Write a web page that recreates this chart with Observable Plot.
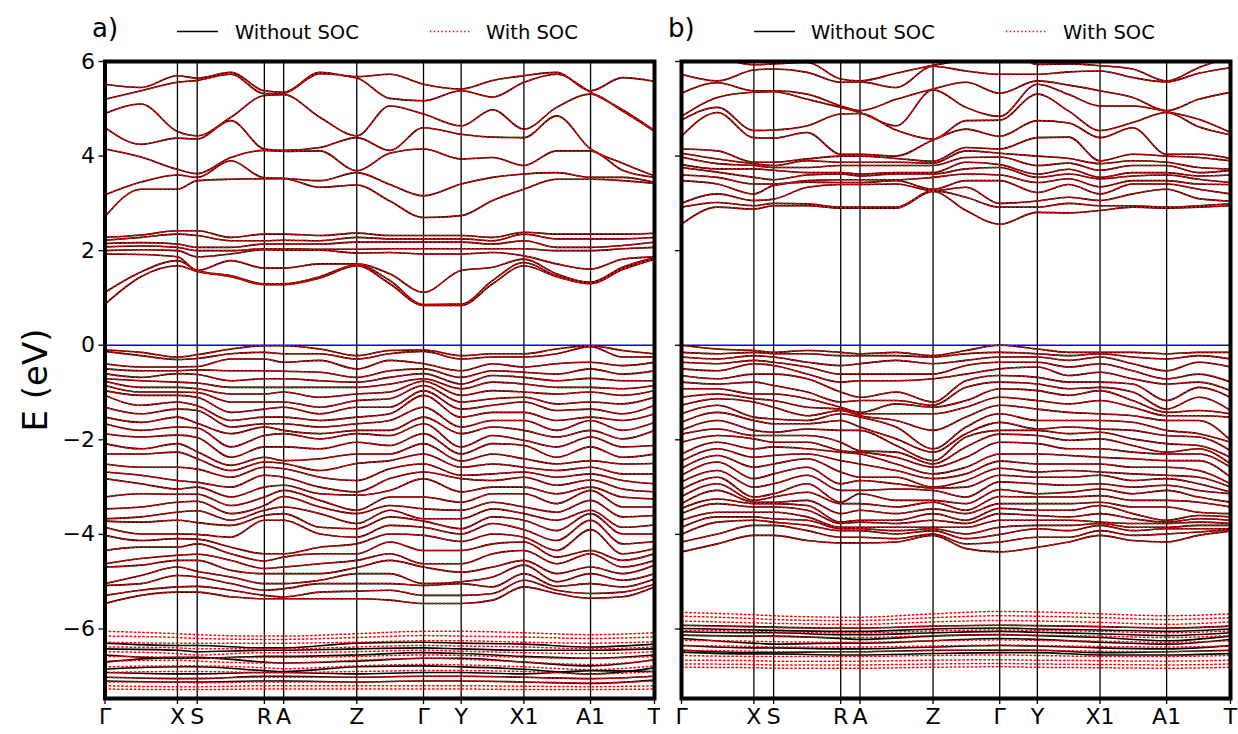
<!DOCTYPE html>
<html><head><meta charset="utf-8">
<script src="https://cdn.jsdelivr.net/npm/d3@7"></script>
<script src="https://cdn.jsdelivr.net/npm/@observablehq/plot@0.6"></script>
<style>
body{margin:0;background:#fff;font-family:"DejaVu Sans",sans-serif}
#wrap{position:relative;width:1238px;height:734px;overflow:hidden;background:#fff}
#wrap > svg{position:absolute;top:0}
</style></head><body><div id="wrap"></div>
<script>
// ---------- k-path ----------
const hsLabels = ["Γ","X","S","R","A","Z","Γ","Y","X1","A1","T"];
const kHS = [0,72.5,92.3,159.5,178.8,252,318.8,356.5,419.3,486,550];
const kGrid = [0,36,72.5,92.3,126,159.5,178.8,215,252,285,318.8,356.5,388,419.3,452,486,518,550];
const yTicks = [-6,-4,-2,0,2,4,6];
const seriesNames = ["Without SOC","With SOC"];

// ---------- panel a : conduction bands (rows along kGrid) ----------
const condA_upper = [
  [5.52,5.45,5.70,5.65,5.77,5.38,5.35,5.77,5.68,5.73,5.52,5.42,5.60,5.70,5.77,5.38,5.66,5.58],
  [5.20,5.38,5.56,5.60,5.73,5.32,5.33,5.74,5.65,5.22,5.17,5.38,5.25,5.56,5.73,5.35,4.98,4.54],
  [4.90,5.10,4.52,4.43,4.82,5.28,5.30,4.82,4.43,5.06,4.89,4.64,4.98,4.57,5.03,5.31,4.95,4.52],
  [4.60,4.25,4.38,4.36,4.75,4.15,4.12,4.18,4.39,4.12,4.60,4.46,4.40,4.39,4.85,4.15,3.85,3.58],
  [4.15,3.98,3.72,3.63,3.97,4.12,4.10,4.11,3.69,4.06,4.15,3.94,3.97,3.80,4.11,4.11,3.70,3.55],
  [3.18,3.45,3.60,3.55,3.90,3.54,3.53,3.48,3.65,3.40,3.16,3.41,3.55,3.62,3.65,3.55,3.55,3.44],
  [2.72,3.30,3.30,3.48,3.51,3.52,3.52,3.34,3.39,3.05,2.70,2.74,3.06,3.30,3.51,3.51,3.48,3.42]
];
const condA_lower = [
  [2.28,2.33,2.42,2.42,2.28,2.35,2.35,2.32,2.37,2.32,2.32,2.32,2.28,2.39,2.35,2.35,2.35,2.37],
  [2.22,2.28,2.35,2.32,2.21,2.21,2.22,2.21,2.28,2.25,2.25,2.25,2.21,2.35,2.25,2.25,2.25,2.28],
  [2.15,2.17,2.14,2.07,2.07,2.14,2.14,2.14,2.18,2.18,2.18,2.18,2.14,2.21,2.07,2.07,2.11,2.18],
  [2.08,2.10,2.07,2.00,2.00,2.04,2.04,2.03,2.03,2.04,2.04,2.04,2.04,2.04,2.00,2.00,2.04,2.07],
  [2.00,2.02,2.00,1.87,1.93,2.02,2.01,2.01,1.95,1.96,1.93,1.93,1.96,1.89,1.72,1.61,1.82,1.87],
  [1.93,1.92,1.87,1.58,1.79,1.63,1.63,1.72,1.72,1.51,1.12,1.58,1.65,1.82,1.51,1.33,1.65,1.85],
  [1.12,1.55,1.79,1.58,1.47,1.30,1.30,1.45,1.70,1.37,0.86,0.87,1.37,1.75,1.47,1.33,1.62,1.83],
  [0.87,1.45,1.68,1.56,1.45,1.28,1.28,1.42,1.68,1.30,0.84,0.84,1.30,1.68,1.45,1.30,1.60,1.82]
];

// ---------- panel a : valence bands (columns, one per kGrid point) ----------
const valA_G  = [-0.10,-0.13,-0.39,-0.50,-0.60,-0.71,-0.76,-0.85,-0.96,-1.06,-1.31,-1.52,-1.66,-1.87,-2.08,-2.30,-2.51,-2.68,-2.82,-3.21,-3.46,-3.67,-3.72,-3.85,-4.02,-4.34,-4.62,-4.69,-5.04,-5.08,-5.29,-5.46];
const valA_cols = [
  valA_G,
  [-0.15,-0.22,-0.46,-0.54,-0.68,-0.75,-0.89,-0.99,-1.06,-1.27,-1.45,-1.63,-1.80,-1.94,-2.19,-2.30,-2.58,-2.75,-2.93,-3.14,-3.42,-3.63,-3.74,-3.99,-4.13,-4.27,-4.51,-4.65,-4.87,-5.04,-5.18,-5.29],
  [-0.25,-0.30,-0.46,-0.54,-0.60,-0.78,-0.89,-0.99,-1.06,-1.20,-1.35,-1.52,-1.73,-1.90,-2.08,-2.26,-2.58,-2.86,-3.04,-3.15,-3.32,-3.53,-3.70,-3.99,-4.09,-4.27,-4.44,-4.55,-4.69,-4.87,-5.11,-5.22],
  [-0.20,-0.28,-0.45,-0.52,-0.62,-0.80,-0.92,-1.00,-1.10,-1.28,-1.38,-1.65,-1.75,-1.95,-2.25,-2.40,-2.62,-2.90,-3.00,-3.15,-3.30,-3.50,-3.75,-4.00,-4.10,-4.20,-4.42,-4.55,-4.78,-4.90,-5.10,-5.22],
  [-0.08,-0.18,-0.29,-0.54,-0.75,-0.89,-1.03,-1.20,-1.42,-1.59,-1.73,-1.87,-2.15,-2.37,-2.54,-2.65,-2.79,-3.00,-3.21,-3.39,-3.56,-3.70,-3.81,-4.06,-4.27,-4.41,-4.55,-4.76,-4.90,-5.04,-5.18,-5.32],
  [-0.01,-0.15,-0.29,-0.54,-0.71,-0.89,-1.03,-1.20,-1.35,-1.52,-1.66,-1.73,-1.91,-2.15,-2.37,-2.47,-2.58,-2.75,-3.00,-3.21,-3.39,-3.49,-3.60,-3.70,-4.41,-4.56,-4.72,-4.83,-5.04,-5.18,-5.29,-5.36],
  [-0.01,-0.18,-0.36,-0.55,-0.71,-0.89,-0.99,-1.20,-1.31,-1.52,-1.66,-1.80,-1.87,-2.15,-2.44,-2.50,-2.61,-2.79,-2.96,-3.07,-3.20,-3.42,-3.56,-3.70,-4.41,-4.48,-4.69,-4.83,-5.04,-5.15,-5.32,-5.36],
  [-0.08,-0.18,-0.32,-0.57,-0.75,-0.89,-1.10,-1.31,-1.45,-1.59,-1.73,-1.87,-1.98,-2.19,-2.40,-2.65,-2.79,-3.00,-3.14,-3.28,-3.42,-3.56,-3.85,-3.99,-4.27,-4.41,-4.62,-4.83,-4.97,-5.04,-5.22,-5.36],
  [-0.22,-0.29,-0.50,-0.68,-0.78,-0.89,-1.03,-1.17,-1.31,-1.52,-1.66,-1.80,-1.87,-2.05,-2.30,-2.50,-2.86,-3.10,-3.17,-3.49,-3.56,-3.77,-3.88,-4.06,-4.20,-4.41,-4.55,-4.70,-4.83,-5.04,-5.20,-5.36],
  [-0.11,-0.18,-0.32,-0.54,-0.68,-0.82,-0.99,-1.13,-1.31,-1.45,-1.59,-1.80,-1.91,-2.12,-2.30,-2.44,-2.61,-2.82,-3.07,-3.21,-3.39,-3.49,-3.63,-3.81,-3.99,-4.16,-4.41,-4.55,-4.83,-5.04,-5.18,-5.39],
  valA_G,
  [-0.22,-0.29,-0.54,-0.68,-0.82,-0.92,-1.06,-1.20,-1.35,-1.52,-1.73,-1.87,-2.15,-2.30,-2.45,-2.58,-2.75,-2.82,-3.10,-3.32,-3.49,-3.67,-3.88,-3.99,-4.15,-4.34,-4.62,-4.80,-5.00,-5.04,-5.29,-5.46],
  [-0.18,-0.25,-0.39,-0.54,-0.64,-0.78,-0.96,-1.13,-1.27,-1.42,-1.59,-1.73,-1.91,-2.08,-2.30,-2.51,-2.72,-2.86,-3.00,-3.14,-3.32,-3.46,-3.63,-3.77,-3.99,-4.20,-4.41,-4.69,-4.90,-5.11,-5.25,-5.39],
  [-0.18,-0.25,-0.46,-0.57,-0.68,-0.82,-0.99,-1.10,-1.20,-1.42,-1.59,-1.80,-2.01,-2.12,-2.40,-2.58,-2.68,-2.79,-3.00,-3.14,-3.42,-3.56,-3.70,-3.90,-4.06,-4.16,-4.34,-4.55,-4.65,-4.83,-4.97,-5.11],
  [-0.08,-0.18,-0.39,-0.61,-0.75,-0.89,-1.03,-1.24,-1.38,-1.59,-1.80,-1.94,-2.15,-2.37,-2.51,-2.65,-2.79,-2.96,-3.14,-3.35,-3.53,-3.70,-3.92,-4.13,-4.34,-4.48,-4.62,-4.83,-5.00,-5.10,-5.18,-5.25],
  [-0.01,-0.03,-0.36,-0.50,-0.70,-0.89,-0.99,-1.20,-1.35,-1.52,-1.59,-1.80,-1.94,-2.15,-2.44,-2.58,-2.72,-2.85,-3.00,-3.07,-3.28,-3.49,-3.56,-3.70,-3.90,-4.34,-4.41,-4.69,-4.83,-5.04,-5.25,-5.35],
  [-0.11,-0.25,-0.43,-0.61,-0.75,-0.92,-1.06,-1.24,-1.45,-1.59,-1.80,-1.98,-2.15,-2.37,-2.51,-2.72,-2.86,-3.04,-3.21,-3.42,-3.63,-3.85,-3.99,-4.20,-4.41,-4.55,-4.69,-4.83,-4.97,-5.11,-5.22,-5.32],
  [-0.18,-0.25,-0.36,-0.54,-0.75,-0.85,-0.96,-1.10,-1.27,-1.45,-1.63,-1.80,-2.12,-2.30,-2.50,-2.72,-2.93,-3.10,-3.25,-3.42,-3.60,-3.80,-3.99,-4.15,-4.30,-4.41,-4.55,-4.65,-4.83,-4.94,-5.05,-5.11]
];

// ---------- panel a : semicore bands (rows along kHS) ----------
const deepA_noSOC = [
  [-6.30,-6.35,-6.35,-6.40,-6.40,-6.30,-6.28,-6.30,-6.32,-6.38,-6.32],
  [-6.42,-6.45,-6.48,-6.45,-6.45,-6.42,-6.40,-6.42,-6.45,-6.45,-6.42],
  [-6.55,-6.62,-6.62,-6.58,-6.58,-6.55,-6.50,-6.52,-6.58,-6.62,-6.55],
  [-6.70,-6.60,-6.60,-6.70,-6.72,-6.68,-6.62,-6.62,-6.70,-6.78,-6.65],
  [-6.85,-6.80,-6.80,-6.88,-6.90,-6.80,-6.78,-6.80,-6.85,-6.95,-6.82],
  [-6.92,-6.95,-6.95,-6.92,-6.92,-6.95,-6.92,-6.92,-6.95,-6.88,-6.90],
  [-7.02,-7.05,-7.05,-7.00,-7.00,-7.02,-7.00,-7.00,-7.02,-7.05,-7.00],
  [-7.10,-7.12,-7.12,-7.10,-7.10,-7.12,-7.10,-7.10,-7.12,-7.15,-7.08]
];
const deepA_SOC = [
  [-6.05,-6.10,-6.12,-6.15,-6.15,-6.10,-6.05,-6.05,-6.08,-6.12,-6.08],
  [-6.15,-6.18,-6.20,-6.22,-6.22,-6.18,-6.14,-6.15,-6.17,-6.20,-6.17],
  [-6.28,-6.30,-6.30,-6.30,-6.30,-6.28,-6.25,-6.25,-6.28,-6.30,-6.27],
  [-6.38,-6.40,-6.42,-6.42,-6.42,-6.38,-6.35,-6.36,-6.38,-6.42,-6.38],
  [-6.48,-6.52,-6.55,-6.50,-6.50,-6.48,-6.45,-6.47,-6.50,-6.52,-6.48],
  [-6.58,-6.60,-6.62,-6.60,-6.60,-6.58,-6.55,-6.56,-6.60,-6.62,-6.58],
  [-6.68,-6.66,-6.68,-6.72,-6.72,-6.66,-6.62,-6.64,-6.70,-6.75,-6.66],
  [-6.80,-6.78,-6.78,-6.82,-6.84,-6.78,-6.75,-6.76,-6.80,-6.86,-6.78],
  [-6.92,-6.90,-6.90,-6.92,-6.92,-6.90,-6.88,-6.88,-6.90,-6.95,-6.90],
  [-7.02,-7.04,-7.04,-7.02,-7.02,-7.02,-7.00,-7.00,-7.02,-7.05,-7.00],
  [-7.12,-7.12,-7.14,-7.12,-7.12,-7.12,-7.10,-7.10,-7.12,-7.14,-7.10],
  [-7.20,-7.22,-7.22,-7.20,-7.20,-7.20,-7.20,-7.20,-7.21,-7.22,-7.20],
  [-7.27,-7.28,-7.28,-7.27,-7.27,-7.27,-7.27,-7.27,-7.28,-7.28,-7.27]
];

// ---------- panel b : conduction bands (columns) ----------
const condB_G = [6.30,5.73,5.33,4.84,4.76,4.42,4.15,4.06,3.98,3.82,3.76,3.60,3.48,3.00,2.92,2.56];
const condB_cols = [
  condB_G,
  [6.10,5.59,5.55,5.24,5.03,4.92,4.11,3.94,3.84,3.73,3.66,3.55,3.41,3.20,3.02,2.92],
  [5.93,5.82,5.38,5.35,4.54,4.39,3.87,3.84,3.80,3.73,3.55,3.41,3.20,3.06,2.95,2.88],
  [5.95,5.84,5.38,5.36,4.55,4.38,3.87,3.80,3.76,3.70,3.50,3.41,3.38,3.09,3.00,2.95],
  [5.98,5.77,5.31,5.20,4.64,4.50,3.94,3.90,3.76,3.65,3.60,3.48,3.45,3.34,2.99,2.95],
  [5.63,5.56,5.06,5.03,4.89,4.04,4.00,3.87,3.80,3.65,3.62,3.50,3.44,3.40,2.92,2.90],
  [5.59,5.57,4.96,4.92,4.90,4.04,4.00,3.87,3.80,3.62,3.58,3.50,3.44,3.40,2.92,2.90],
  [5.75,5.45,5.20,4.64,4.55,4.00,3.95,3.87,3.80,3.65,3.62,3.50,3.48,3.41,2.92,2.90],
  [5.92,5.90,5.42,5.40,4.36,4.34,3.89,3.85,3.80,3.65,3.62,3.55,3.30,3.27,3.27,3.25],
  [6.05,5.80,5.56,5.03,4.75,4.57,4.18,4.11,3.97,3.87,3.73,3.62,3.48,3.34,3.13,2.85],
  condB_G,
  [5.94,5.73,5.59,5.52,5.31,4.75,4.39,4.00,3.80,3.62,3.55,3.44,3.23,3.05,2.92,2.81],
  [5.95,5.78,5.50,5.30,4.95,4.70,4.40,3.95,3.85,3.72,3.62,3.52,3.40,3.13,3.00,2.80],
  [5.91,5.80,5.38,5.06,4.54,4.39,3.90,3.84,3.70,3.55,3.52,3.35,3.20,3.06,2.95,2.85],
  [5.84,5.66,5.24,5.06,4.71,4.60,4.04,3.90,3.80,3.65,3.58,3.48,3.41,3.20,2.95,2.92],
  [5.59,5.57,4.96,4.94,4.92,4.04,4.00,3.87,3.80,3.65,3.60,3.48,3.41,3.30,2.92,2.90],
  [5.87,5.75,5.20,4.78,4.62,4.04,3.97,3.76,3.65,3.58,3.51,3.41,3.30,3.10,2.95,2.92],
  [6.10,5.87,5.35,4.50,4.45,3.95,3.90,3.73,3.70,3.60,3.44,3.40,3.20,3.05,2.99,2.95]
];

// ---------- panel b : valence bands (columns) ----------
const valB_G = [0.00,-0.15,-0.25,-0.36,-0.50,-0.64,-0.78,-0.92,-1.10,-1.27,-1.45,-1.63,-1.80,-1.88,-2.05,-2.30,-2.45,-2.60,-2.75,-2.89,-3.05,-3.20,-3.35,-3.45,-3.56,-3.70,-3.85,-4.00,-4.16,-4.37];
const valB_cols = [
  valB_G,
  [-0.08,-0.18,-0.29,-0.39,-0.54,-0.71,-0.82,-0.92,-1.03,-1.13,-1.27,-1.42,-1.59,-1.77,-1.91,-2.05,-2.19,-2.33,-2.47,-2.65,-2.79,-2.93,-3.07,-3.25,-3.35,-3.53,-3.63,-3.74,-3.99,-4.20],
  [-0.11,-0.15,-0.22,-0.32,-0.39,-0.61,-0.78,-1.03,-1.13,-1.20,-1.52,-1.59,-1.80,-1.91,-1.98,-2.19,-2.37,-2.58,-2.82,-3.00,-3.21,-3.28,-3.32,-3.35,-3.42,-3.53,-3.63,-3.70,-3.81,-4.02],
  [-0.15,-0.18,-0.25,-0.36,-0.43,-0.61,-0.85,-1.03,-1.17,-1.31,-1.56,-1.66,-1.84,-1.91,-2.05,-2.15,-2.33,-2.51,-2.72,-2.93,-3.14,-3.21,-3.32,-3.35,-3.42,-3.53,-3.67,-3.74,-3.81,-4.02],
  [-0.11,-0.18,-0.36,-0.46,-0.61,-0.71,-0.99,-1.13,-1.31,-1.49,-1.59,-1.66,-1.77,-1.91,-2.05,-2.19,-2.30,-2.40,-2.58,-2.75,-2.93,-3.11,-3.28,-3.39,-3.49,-3.63,-3.70,-3.81,-3.92,-4.13],
  [-0.15,-0.22,-0.43,-0.61,-0.78,-0.99,-1.20,-1.31,-1.35,-1.38,-1.45,-1.59,-1.80,-2.05,-2.23,-2.26,-2.44,-2.68,-2.93,-3.07,-3.32,-3.35,-3.56,-3.74,-3.77,-3.85,-3.88,-3.92,-4.06,-4.18],
  [-0.18,-0.22,-0.39,-0.61,-0.75,-1.10,-1.17,-1.42,-1.45,-1.49,-1.52,-1.73,-1.80,-2.23,-2.26,-2.30,-2.51,-2.79,-2.86,-3.07,-3.14,-3.35,-3.49,-3.70,-3.74,-3.85,-3.88,-3.92,-4.06,-4.18],
  [-0.15,-0.22,-0.32,-0.61,-0.75,-0.99,-1.17,-1.24,-1.45,-1.59,-1.73,-1.98,-2.12,-2.26,-2.37,-2.51,-2.65,-2.79,-2.93,-3.04,-3.28,-3.42,-3.56,-3.70,-3.77,-3.85,-3.92,-3.99,-4.09,-4.16],
  [-0.22,-0.25,-0.39,-0.61,-0.71,-1.20,-1.27,-1.31,-1.45,-1.80,-2.19,-2.26,-2.44,-2.51,-2.58,-2.72,-2.82,-3.00,-3.02,-3.07,-3.28,-3.32,-3.46,-3.56,-3.70,-3.85,-3.88,-3.92,-3.99,-4.02],
  [-0.11,-0.18,-0.32,-0.43,-0.61,-0.75,-0.89,-1.17,-1.31,-1.52,-1.73,-1.87,-1.94,-2.15,-2.37,-2.58,-2.72,-2.86,-3.00,-3.21,-3.35,-3.49,-3.56,-3.70,-3.77,-3.85,-3.99,-4.09,-4.20,-4.30],
  valB_G,
  [-0.08,-0.18,-0.25,-0.36,-0.46,-0.68,-0.82,-0.96,-1.17,-1.35,-1.59,-1.77,-1.80,-1.91,-2.08,-2.30,-2.51,-2.68,-2.79,-2.93,-3.14,-3.21,-3.35,-3.49,-3.60,-3.70,-3.81,-3.88,-4.06,-4.27],
  [-0.15,-0.22,-0.32,-0.46,-0.64,-0.78,-0.92,-1.06,-1.24,-1.42,-1.59,-1.73,-1.87,-2.01,-2.19,-2.33,-2.51,-2.65,-2.79,-2.96,-3.11,-3.21,-3.35,-3.49,-3.63,-3.70,-3.81,-3.92,-4.06,-4.16],
  [-0.15,-0.18,-0.25,-0.39,-0.57,-0.78,-0.89,-0.96,-1.17,-1.45,-1.59,-1.77,-1.84,-1.98,-2.19,-2.37,-2.51,-2.68,-2.75,-2.93,-3.04,-3.18,-3.32,-3.39,-3.56,-3.74,-3.77,-3.81,-3.92,-4.02],
  [-0.15,-0.25,-0.39,-0.54,-0.71,-0.82,-0.99,-1.17,-1.31,-1.49,-1.63,-1.80,-1.98,-2.12,-2.26,-2.40,-2.58,-2.72,-2.86,-3.00,-3.14,-3.28,-3.42,-3.56,-3.67,-3.77,-3.85,-3.92,-4.02,-4.13],
  [-0.18,-0.29,-0.54,-0.71,-0.82,-1.17,-1.35,-1.42,-1.49,-1.59,-1.80,-1.91,-2.08,-2.26,-2.30,-2.44,-2.58,-2.75,-2.82,-2.96,-3.07,-3.28,-3.42,-3.70,-3.74,-3.77,-3.85,-3.88,-3.99,-4.16],
  [-0.15,-0.22,-0.36,-0.61,-0.78,-0.89,-1.10,-1.38,-1.49,-1.59,-1.87,-1.94,-2.12,-2.19,-2.30,-2.44,-2.65,-2.79,-2.93,-3.07,-3.21,-3.32,-3.53,-3.60,-3.67,-3.74,-3.81,-3.88,-3.95,-4.02],
  [-0.15,-0.29,-0.46,-0.78,-0.96,-1.10,-1.38,-1.45,-1.52,-2.01,-2.05,-2.23,-2.37,-2.51,-2.58,-2.79,-2.93,-3.00,-3.11,-3.14,-3.32,-3.42,-3.56,-3.63,-3.70,-3.77,-3.81,-3.88,-3.90,-3.93]
];

// ---------- panel b : semicore bands (rows along kHS) ----------
const deepB_noSOC = [
  [-5.92,-5.95,-5.96,-5.98,-5.98,-5.94,-5.92,-5.93,-5.95,-5.98,-5.94],
  [-5.99,-6.02,-6.03,-6.05,-6.05,-6.00,-5.98,-6.00,-6.02,-6.05,-6.00],
  [-6.06,-6.08,-6.08,-6.12,-6.12,-6.08,-6.05,-6.07,-6.10,-6.14,-6.08],
  [-6.13,-6.15,-6.15,-6.20,-6.22,-6.15,-6.12,-6.14,-6.18,-6.25,-6.15],
  [-6.20,-6.30,-6.32,-6.30,-6.30,-6.25,-6.20,-6.22,-6.28,-6.32,-6.22],
  [-6.35,-6.40,-6.40,-6.42,-6.42,-6.38,-6.35,-6.36,-6.40,-6.42,-6.35],
  [-6.45,-6.50,-6.50,-6.48,-6.48,-6.45,-6.45,-6.45,-6.50,-6.48,-6.45],
  [-6.49,-6.53,-6.53,-6.55,-6.55,-6.52,-6.50,-6.50,-6.55,-6.55,-6.52]
];
const deepB_SOC = [
  [-5.65,-5.70,-5.72,-5.75,-5.75,-5.68,-5.63,-5.64,-5.68,-5.72,-5.68],
  [-5.73,-5.78,-5.80,-5.82,-5.82,-5.76,-5.72,-5.73,-5.76,-5.80,-5.76],
  [-5.83,-5.87,-5.88,-5.90,-5.90,-5.85,-5.82,-5.83,-5.86,-5.90,-5.85],
  [-5.93,-5.96,-5.97,-5.98,-5.98,-5.94,-5.92,-5.93,-5.95,-5.98,-5.94],
  [-6.03,-6.05,-6.06,-6.08,-6.08,-6.04,-6.02,-6.03,-6.05,-6.08,-6.04],
  [-6.13,-6.15,-6.16,-6.18,-6.18,-6.14,-6.12,-6.13,-6.15,-6.18,-6.14],
  [-6.24,-6.26,-6.27,-6.28,-6.28,-6.25,-6.23,-6.24,-6.26,-6.28,-6.25],
  [-6.35,-6.37,-6.38,-6.38,-6.38,-6.36,-6.34,-6.35,-6.37,-6.38,-6.36],
  [-6.45,-6.47,-6.48,-6.48,-6.48,-6.46,-6.44,-6.45,-6.47,-6.48,-6.46],
  [-6.56,-6.58,-6.58,-6.58,-6.58,-6.56,-6.55,-6.56,-6.58,-6.58,-6.56],
  [-6.66,-6.67,-6.68,-6.68,-6.68,-6.66,-6.65,-6.66,-6.67,-6.68,-6.66],
  [-6.74,-6.75,-6.76,-6.76,-6.76,-6.74,-6.73,-6.74,-6.75,-6.76,-6.74],
  [-6.81,-6.82,-6.83,-6.83,-6.83,-6.81,-6.80,-6.81,-6.82,-6.83,-6.81]
];

// ---------- tables ----------
function fromRows(rows, ks, tag) {
  const out = [];
  rows.forEach((r, i) => r.forEach((e, j) => out.push({k: ks[j], E: e, band: tag + i})));
  return out;
}
function fromCols(cols, ks, tag) {
  const out = [];
  cols.forEach((c, j) => c.forEach((e, i) => out.push({k: ks[j], E: e, band: tag + i})));
  return out;
}
const sharedA = [...fromRows(condA_upper, kGrid, "u"), ...fromRows(condA_lower, kGrid, "l"), ...fromCols(valA_cols, kGrid, "v")];
const sharedB = [...fromCols(condB_cols, kGrid, "c"), ...fromCols(valB_cols, kGrid, "v")];
const panelA = {
  noSOC: [...sharedA, ...fromRows(deepA_noSOC, kHS, "d")],
  SOC:   [...sharedA, ...fromRows(deepA_SOC, kHS, "d")]
};
const panelB = {
  noSOC: [...sharedB, ...fromRows(deepB_noSOC, kHS, "d")],
  SOC:   [...sharedB, ...fromRows(deepB_SOC, kHS, "d")]
};

const labelOf = new Map(kHS.map((k, i) => [k, hsLabels[i]]));
const fmtY = d => d < 0 ? "\u2212" + Math.abs(d) : String(d);

function makePanel(p, o) {
  return Plot.plot({
    width: o.width, height: 734,
    marginTop: 61, marginBottom: 36, marginLeft: o.ml, marginRight: o.mr,
    x: {domain: [0, 550]},
    y: {domain: [-7.47, 6]},
    style: {fontFamily: "DejaVu Sans", fontSize: "22px", background: "transparent", color: "black"},
    marks: [
      Plot.ruleX(kHS, {stroke: "black", strokeWidth: 1.3}),
      Plot.ruleY([0], {stroke: "blue", strokeWidth: 1.4}),
      Plot.line(p.noSOC, {x: "k", y: "E", z: "band", stroke: "black", strokeWidth: 1.6, curve: "monotone-x", clip: true}),
      Plot.line(p.SOC, {x: "k", y: "E", z: "band", stroke: "#ff0000", strokeWidth: 1.5, strokeDasharray: "1.4,2.8", curve: "monotone-x", clip: true}),
      Plot.axisX({ticks: kHS, tickFormat: d => labelOf.get(d), tickSize: 6, tickPadding: 4, label: null, stroke: "black", strokeWidth: 1.3}),
      Plot.axisY({ticks: yTicks, tickSize: 6, tickPadding: 4, label: null, tickFormat: o.yLabels ? fmtY : () => "", strokeWidth: 1.3}),
      Plot.frame({stroke: "black", strokeWidth: 4})
    ]
  });
}

const wrap = document.getElementById("wrap");
const svgA = makePanel(panelA, {width: 660, ml: 104.5, mr: 6, yLabels: true});
svgA.style.left = "0px";
wrap.appendChild(svgA);
const svgB = makePanel(panelB, {width: 578, ml: 21, mr: 8, yLabels: false});
svgB.style.left = "660px";
wrap.appendChild(svgB);

// ---------- legends, panel letters, y label ----------
const ns = "http://www.w3.org/2000/svg";
const ov = document.createElementNS(ns, "svg");
ov.setAttribute("width", 1238); ov.setAttribute("height", 734);
ov.style.left = "0px"; ov.style.pointerEvents = "none";
ov.setAttribute("font-family", "DejaVu Sans");
function el(tag, attrs, text) {
  const e = document.createElementNS(ns, tag);
  for (const k in attrs) e.setAttribute(k, attrs[k]);
  if (text != null) e.textContent = text;
  ov.appendChild(e); return e;
}
const legends = [
  {letter: "a)", lx: 92, bl: 177, bt: 235, rl: 430, rt: 486},
  {letter: "b)", lx: 668, bl: 754, bt: 811, rl: 1006, rt: 1063}
];
for (const L of legends) {
  el("text", {x: L.lx, y: 37, "font-size": 26}, L.letter);
  el("line", {x1: L.bl, x2: L.bl + 41, y1: 31.5, y2: 31.5, stroke: "black", "stroke-width": 1.5});
  el("text", {x: L.bt, y: 39, "font-size": 19.5}, seriesNames[0]);
  el("line", {x1: L.rl, x2: L.rl + 41, y1: 31.5, y2: 31.5, stroke: "red", "stroke-width": 1.5, "stroke-dasharray": "1.4,2.4"});
  el("text", {x: L.rt, y: 39, "font-size": 19.5}, seriesNames[1]);
}
el("text", {transform: "translate(47,380) rotate(-90)", "text-anchor": "middle", "font-size": 34}, "E (eV)");
wrap.appendChild(ov);
</script>
</body></html>
